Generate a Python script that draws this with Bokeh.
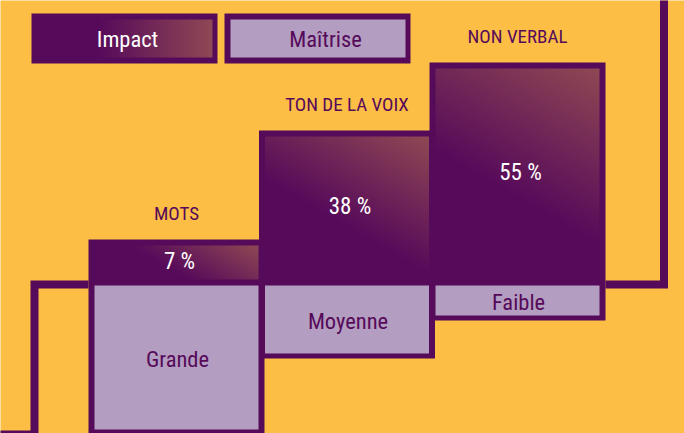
import numpy as np
from bokeh.plotting import figure
from bokeh.models import Range1d
from bokeh.core.properties import value
from bokeh.embed import file_html
from bokeh.resources import INLINE

# ---- data ----
categories = ["MOTS", "TON DE LA VOIX", "NON VERBAL"]
impact = [7, 38, 55]
impact_labels = ["7 %", "38 %", "55 %"]
maitrise = ["Grande", "Moyenne", "Faible"]
maitrise_level = [4, 2, 1]
legend_labels = ["Impact", "Maîtrise"]

# ---- style / layout ----
W, H = 684, 433
PX = 4.0                 # pixels per y unit
BASE_PX = 282            # baseline, pixels from top
BG = "#FDBE45"
PURPLE = "#560A5A"
LAV = "#B39DC0"
WHITE = "#FFFFFF"
DARK = np.array([86, 10, 90], dtype=float)
LIGHT = np.array([143, 72, 83], dtype=float)
FONT = "'Liberation Sans Narrow', 'Roboto Condensed', 'DejaVu Sans Condensed', Roboto"

X0, STEP, CW, BW = 88.0, 170.5, 176.0, 6.0
MIN_H = 10.75            # minimum impact box height (units) to hold label
LEVEL_U = 9.5            # units per maitrise level

ymin = -(H - BASE_PX) / PX
ymax = BASE_PX / PX

p = figure(width=W, height=H, x_range=Range1d(0, W), y_range=Range1d(ymin, ymax),
           output_backend="svg", toolbar_location=None, min_border=0,
           x_axis_type=None, y_axis_type=None)
p.grid.visible = False
p.outline_line_color = None
p.background_fill_color = BG
p.border_fill_color = BG


def grad_img(wpx, hpx, mode):
    wpx, hpx = max(int(round(wpx)), 2), max(int(round(hpx)), 2)
    u = (np.arange(wpx) + 0.5) / wpx
    v = (np.arange(hpx) + 0.5) / hpx
    U, V = np.meshgrid(u, v)
    if mode == "h":
        t = np.clip((U - 0.35) / 0.65, 0, 1)
    else:
        a, b = wpx * 0.5, hpx * 0.866
        s = (U * a + V * b) / (a + b)
        t = np.clip((s - 0.42) / 0.58, 0, 1)
    rgb = DARK[None, None, :] * (1 - t[..., None]) + LIGHT[None, None, :] * t[..., None]
    img = np.empty((hpx, wpx), dtype=np.uint32)
    view = img.view(dtype=np.uint8).reshape((hpx, wpx, 4))
    view[..., :3] = np.round(rgb).astype(np.uint8)
    view[..., 3] = 255
    return img


# ---- decorative stair lines ----
first_left = X0
last_right = X0 + STEP * (len(categories) - 1) + CW
p.line([-10, 34, 34, first_left], [ymin - 0.25, ymin - 0.25, -0.5, -0.5],
       line_color=PURPLE, line_width=8, line_join="miter")
p.line([last_right, 663.5, 663.5], [-0.5, -0.5, ymax + 5],
       line_color=PURPLE, line_width=8, line_join="miter")

# ---- columns ----
lefts = [X0 + i * STEP for i in range(len(categories))]
rights = [l + CW for l in lefts]
tops = [max(v, MIN_H) for v in impact]
bottoms = [-lv * LEVEL_U for lv in maitrise_level]

p.quad(left=lefts, right=rights, top=tops, bottom=bottoms,
       fill_color=PURPLE, line_color=None)

for i in range(len(categories)):
    il, ir = lefts[i] + BW, rights[i] - BW
    gb = 3 / PX
    gt = tops[i] - BW / PX
    img = grad_img(ir - il, (gt - gb) * PX, "d")
    p.image_rgba(image=[img], x=il, y=gb, dw=ir - il, dh=gt - gb)

p.quad(left=[l + BW for l in lefts], right=[r - BW for r in rights],
       top=[-3 / PX] * len(categories), bottom=[b + 5 / PX for b in bottoms],
       fill_color=LAV, line_color=None)

cx = [(l + r) / 2 for l, r in zip(lefts, rights)]
p.text(x=cx, y=[t + 26 / PX for t in tops], text=categories,
       text_font=value(FONT), text_font_size="19px", text_color=PURPLE,
       text_align="center", text_baseline="middle")
p.text(x=[c + 3 for c in cx], y=[t / 2 for t in tops], text=impact_labels,
       text_font=value(FONT), text_font_size="23px", text_color=WHITE,
       text_align="center", text_baseline="middle")
p.text(x=[c + 1 for c in cx], y=[b / 2 for b in bottoms], text=maitrise,
       text_font=value(FONT), text_font_size="22.5px", text_color=PURPLE,
       text_align="center", text_baseline="middle")

# ---- legend ----
LX0, LSTEP, LW = 31.0, 193.0, 186.0
ltop = (BASE_PX - 13) / PX
lbot = (BASE_PX - 63) / PX
llefts = [LX0 + j * LSTEP for j in range(len(legend_labels))]
lrights = [l + LW for l in llefts]
p.quad(left=llefts, right=lrights, top=[ltop] * 2, bottom=[lbot] * 2,
       fill_color=PURPLE, line_color=None)
# Impact swatch (gradient)
il, ir = llefts[0] + 5, lrights[0] - 5
it, ib = ltop - 6 / PX, lbot + 6 / PX
p.image_rgba(image=[grad_img(ir - il, (it - ib) * PX, "h")], x=il, y=ib, dw=ir - il, dh=it - ib)
# Maitrise swatch
p.quad(left=[llefts[1] + 6], right=[lrights[1] - 5], top=[it], bottom=[ib],
       fill_color=LAV, line_color=None)
p.text(x=[(l + r) / 2 + d for l, r, d in zip(llefts, lrights, [3, 8])], y=[(ltop + lbot) / 2] * 2,
       text=legend_labels, text_font=value(FONT), text_font_size="22.5px",
       text_color=[WHITE, PURPLE], text_align="center", text_baseline="middle")

open("out.html", "w").write(file_html(p, INLINE))
